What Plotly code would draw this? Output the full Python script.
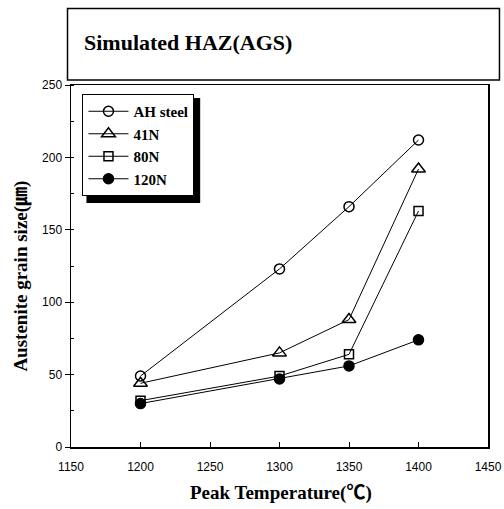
import plotly.graph_objects as go

temps = [1200, 1300, 1350, 1400]
ah_steel = [49, 123, 166, 212]
n41 = [44, 65, 88, 192]
n80 = [32, 49, 64, 163]
n120 = [30, 47, 56, 74]

series = [
    ("AH steel", ah_steel, "circle-open", 10),
    ("41N", n41, "triangle-up-open", 12),
    ("80N", n80, "square-open", 9),
    ("120N", n120, "circle", 10),
]

serif = "Liberation Serif, Times New Roman, Noto Sans CJK KR, serif"
sans = "Liberation Sans, Arial, sans-serif"

fig = go.Figure()
for name, vals, sym, sz in series:
    fig.add_trace(go.Scatter(
        x=temps, y=vals, name="<b>" + name + "</b>", mode="lines+markers",
        line=dict(color="black", width=1),
        marker=dict(symbol=sym, size=sz, color="black",
                    line=dict(color="black", width=1.5)),
    ))

W, H = 504, 509
# plot area in page pixels: x 70.5..488.5, y 85..447
L = 70.5
R = W - 488.5
T = 85
B = H - 447

def fx(x):
    return (x - L) / (W - L - R)
def fy(y):
    return (H - B - y) / (H - T - B)

shapes = []
# title box
shapes.append(dict(type="rect", xref="paper", yref="paper",
                   x0=fx(67), x1=fx(500), y0=fy(80), y1=fy(8.5),
                   line=dict(color="black", width=1.5), fillcolor="rgba(0,0,0,0)"))
# legend shadow
shapes.append(dict(type="rect", xref="paper", yref="paper",
                   x0=fx(86), x1=fx(200), y0=fy(203), y1=fy(98),
                   line=dict(color="black", width=0), fillcolor="black", layer="above"))

fig.update_layout(
    width=W, height=H,
    margin=dict(l=L, r=R, t=T, b=B, autoexpand=False),
    paper_bgcolor="white", plot_bgcolor="white",
    showlegend=True,
    legend=dict(x=fx(82), y=fy(94), xanchor="left", yanchor="top",
                bgcolor="white", bordercolor="black", borderwidth=1,
                font=dict(family=serif, size=15, color="black"),
                itemwidth=40, tracegroupgap=0),
    shapes=shapes,
    annotations=[
        dict(text="<b>Simulated HAZ(AGS)</b>", xref="paper", yref="paper",
             x=fx(82), y=fy(42), xanchor="left", yanchor="middle",
             showarrow=False, font=dict(family=serif, size=22, color="black")),
        dict(text="<b>Peak Temperature(℃)</b>", xref="paper", yref="paper",
             x=fx(281), y=fy(493), xanchor="center", yanchor="middle",
             showarrow=False, font=dict(family=serif, size=19, color="black")),
        dict(text="<b>Austenite grain size(㎛)</b>", xref="paper", yref="paper",
             x=fx(20), y=fy(276), xanchor="center", yanchor="middle", textangle=-90,
             showarrow=False, font=dict(family=serif, size=19, color="black")),
    ],
    xaxis=dict(range=[1150, 1450], dtick=50, tick0=1150, automargin=False,
               showline=True, mirror=True, linecolor="black", linewidth=1.5,
               ticks="inside", ticklen=5, tickcolor="black", showgrid=False, zeroline=False,
               ticklabelstandoff=8,
               tickfont=dict(family=sans, size=12, color="black")),
    yaxis=dict(range=[0, 250], dtick=50, tick0=0, automargin=False,
               showline=True, mirror=True, linecolor="black", linewidth=1.5,
               ticks="outside", ticklen=5, tickcolor="black", showgrid=False, zeroline=False,
               minor=dict(dtick=25, ticks="inside", ticklen=3, tickcolor="black"),
               tickfont=dict(family=sans, size=12, color="black")),
)

fig.write_html(
    "out.html",
    config={"displayModeBar": False, "staticPlot": True},
    post_script="document.body.style.margin='0';document.body.style.overflow='hidden';",
)
